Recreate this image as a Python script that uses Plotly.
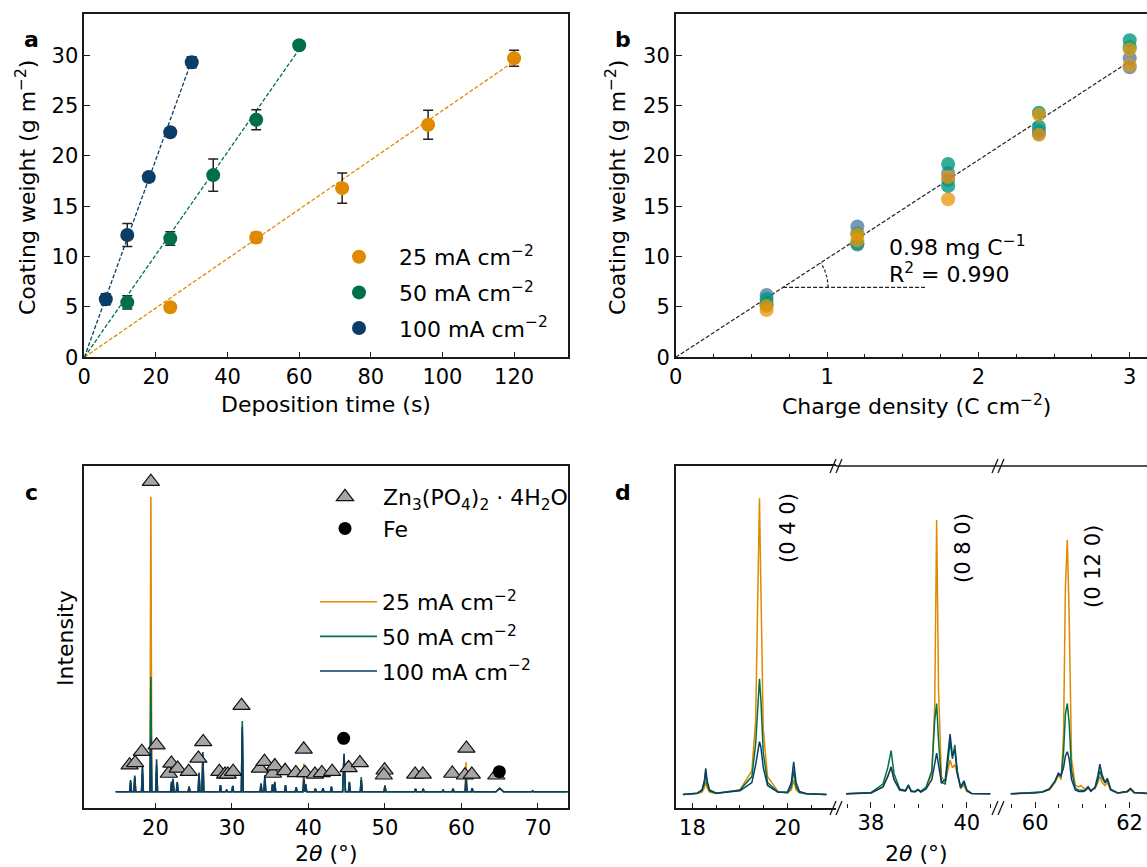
import numpy as np
import plotly.graph_objects as go

W, H = 1147, 867
FONT = "DejaVu Sans"
ORANGE = "#E08A00"
GREEN = "#00704A"
NAVY = "#0B3D66"
AXC = "#1a1a1a"

# ---------------- panel a data ----------------
labels_a = ["25 mA cm<sup>−2</sup>", "50 mA cm<sup>−2</sup>", "100 mA cm<sup>−2</sup>"]
time_25 = [24, 48, 72, 96, 120]
cw_25 = [4.97, 11.9, 16.8, 23.1, 29.7]
err_25 = [0.2, 0.5, 1.5, 1.45, 0.8]
time_50 = [12, 24, 36, 48, 60]
cw_50 = [5.46, 11.8, 18.1, 23.6, 31.0]
err_50 = [0.65, 0.66, 1.6, 1.0, 0.3]
time_100 = [6, 12, 18, 24, 30]
cw_100 = [5.76, 12.15, 17.9, 22.35, 29.3]
err_100 = [0.55, 1.15, 0.45, 0.2, 0.55]
fit_time_end = [120, 60, 30]
fit_cw_end = [29.4, 30.6, 29.5]

# ---------------- panel b data ----------------
charge_25 = [0.6, 0.6, 1.2, 1.2, 1.8, 1.8, 2.4, 2.4, 3.0, 3.0]
cwb_25 = [4.7, 5.1, 11.6, 12.2, 15.7, 17.9, 22.1, 24.1, 29.0, 30.6]
charge_50 = [0.6, 0.6, 1.2, 1.2, 1.8, 1.8, 2.4, 2.4, 3.0, 3.0]
cwb_50 = [5.2, 5.8, 11.3, 12.3, 17.0, 19.2, 22.9, 24.3, 30.8, 31.5]
charge_100 = [0.6, 0.6, 1.2, 1.2, 1.8, 1.8, 2.4, 2.4, 3.0, 3.0]
cwb_100 = [5.4, 6.2, 11.2, 13.0, 17.6, 18.3, 22.2, 22.5, 28.8, 29.7]
fit_b_x = [0, 3.0]
fit_b_y = [0, 29.4]
angle_ref_y = 6.95
angle_ref_xend = 1.65

# ---------------- panel c data ----------------
c_x_start, c_x_end = 14.8, 73.9
c_peak_pos = [16.75, 17.3, 18.3, 19.4, 20.15, 22.1, 22.3, 22.85, 24.4, 25.7, 26.2, 28.5, 29.3, 30.1,
              31.35, 33.8, 34.3, 35.3, 35.6, 37.0, 38.4, 39.4, 39.65, 40.9, 41.9, 43.0, 44.65, 45.35,
              46.9, 50.0, 54.0, 55.0, 57.6, 58.9, 60.6, 61.4, 65.0, 69.3]
c_peak_width = [0.12] * 26 + [0.18] + [0.12] * 9 + [0.5, 0.12]
c_int_25 = [3, 4.5, 6, 100, 7, 2.5, 4, 2.5, 1.5, 5, 11, 2, 0.8, 1.7, 20, 2.5, 4.5, 2, 2.8, 2, 1.5,
            9.6, 2, 1, 1, 1.5, 11, 3, 4, 2.3, 0.8, 0.8, 0.5, 1, 10, 1, 1.2, 0.3]
c_int_50 = [3.5, 5, 8, 39, 9, 3, 4, 3, 1.7, 6, 12, 2.3, 0.5, 2, 24, 2.8, 5, 2.5, 3.2, 2.3, 1.5,
            5, 2.5, 1, 1.2, 1.7, 12, 3.2, 5, 2, 1, 1, 0.5, 1, 6, 1.2, 1.2, 0.3]
c_int_100 = [4, 5.5, 8.7, 18, 11, 3.5, 4.5, 3.4, 1.7, 6.5, 13.5, 2.3, 0.5, 2, 22, 2.8, 5.6, 2.5, 3.4,
             2.3, 1.5, 4, 2.5, 1, 1.2, 1.7, 13, 3.4, 4, 2, 1, 1, 0.5, 1, 4, 1.2, 1.2, 0.3]
hopeite_x = [19.4, 16.62, 17.35, 18.22, 20.15, 21.75, 22.08, 22.9, 24.35, 25.61, 26.24, 28.35, 29.09,
             29.45, 30.15, 31.25, 33.65, 34.25, 35.35, 35.6, 36.95, 38.35, 39.38, 39.55, 40.85, 41.75,
             43.1, 45.25, 46.72, 49.95, 49.85, 53.95, 54.95, 58.8, 60.65, 60.45, 61.35, 64.55]
hopeite_y = [105.1, 9.0, 9.8, 13.6, 15.8, 6.2, 9.6, 7.9, 6.8, 11.3, 16.9, 6.8, 5.9, 5.9, 6.8, 29.2,
             7.9, 10.2, 6.2, 8.7, 7.1, 6.4, 14.4, 6.4, 5.9, 6.4, 6.8, 8.1, 9.8, 7.3, 5.6, 5.9, 5.9,
             6.2, 14.7, 5.6, 5.9, 5.6]
fe_x = [44.6, 64.95]
fe_y = [18.1, 6.8]

# ---------------- panel d data ----------------
d1_x = [17.8, 18.1, 18.2, 18.25, 18.28, 18.31, 18.36, 18.5, 19.0, 19.25, 19.33, 19.38, 19.41, 19.44,
        19.49, 19.58, 19.8, 20.0, 20.08, 20.13, 20.18, 20.25, 20.4, 20.82]
d1_25 = [0, 0.3, 0.8, 2.2, 4.3, 2.2, 0.8, 0.3, 1.5, 8, 25, 70, 100, 70, 22, 6, 1, 0.5, 1.5, 4.8, 1.5,
         0.5, 0.2, 0]
d1_50 = [0, 0.4, 1.2, 3.5, 7.5, 3.5, 1.2, 0.4, 1.5, 6, 17, 33, 39, 32, 14, 4, 0.8, 0.6, 2.5, 8, 2.5,
         0.7, 0.2, 0]
d1_100 = [0, 0.4, 1.5, 4.5, 8.8, 4.5, 1.5, 0.4, 1.2, 4, 10, 16, 17.8, 16, 9, 3, 0.7, 0.8, 4, 11, 4,
          1, 0.2, 0]
d2_x = [37.48, 38.0, 38.25, 38.35, 38.42, 38.48, 38.6, 38.72, 38.78, 38.84, 38.92, 38.98, 39.04, 39.15,
        39.27, 39.33, 39.37, 39.41, 39.47, 39.55, 39.62, 39.65, 39.7, 39.75, 39.8, 39.87, 39.94, 40.0,
        40.1, 40.49]
d2_25 = [0.2, 0.5, 2.5, 6, 9, 5, 1.5, 1.2, 2.8, 1, 0.8, 1.5, 0.8, 2, 7, 30, 92.7, 35, 6, 4, 10, 11.6,
         9, 10, 7, 2, 3, 1, 0.3, 0.2]
d2_50 = [0.2, 0.6, 3.5, 9, 14.8, 7, 1.8, 1.3, 3.2, 1.2, 1, 1.7, 1, 2.5, 8, 25, 30.7, 18, 4, 3.5, 13,
         18, 12, 16.7, 8, 2.2, 4, 1.2, 0.3, 0.2]
d2_100 = [0.2, 0.5, 2.5, 6, 9.3, 5, 1.5, 1.2, 3, 1, 0.9, 1.6, 0.8, 1.8, 5, 11, 13.9, 10, 4, 5, 17, 20.4,
          13, 15, 7, 2.5, 4.6, 1.5, 0.3, 0.2]
d3_x = [59.48, 59.8, 60.0, 60.15, 60.3, 60.42, 60.49, 60.55, 60.6, 60.64, 60.68, 60.72, 60.77, 60.85,
        60.92, 60.97, 61.03, 61.08, 61.12, 61.18, 61.27, 61.33, 61.37, 61.42, 61.48, 61.53, 61.6,
        61.75, 61.95, 62.02, 62.1, 62.37]
d3_25 = [0.2, 0.4, 0.5, 0.8, 1.5, 4, 6.5, 5, 20, 70, 86, 60, 12, 3, 2.5, 3, 2, 2, 2.6, 1.5, 2, 4, 6, 4,
         3, 4, 1.5, 0.5, 0.8, 1.5, 0.5, 0.3]
d3_50 = [0.2, 0.4, 0.6, 0.8, 1.8, 4.5, 7, 6, 14, 27, 30.7, 24, 8, 2, 1.5, 1.5, 1.3, 1.8, 2.6, 1.2, 2.2,
         5, 8, 5.5, 4, 5.5, 1.8, 0.5, 1, 2, 0.6, 0.3]
d3_100 = [0.2, 0.3, 0.5, 0.8, 1.8, 4.5, 7.1, 6.5, 9, 13, 14.4, 12, 5, 1.5, 1, 1, 1, 1.5, 2.3, 1, 2.5,
          6.5, 10.2, 6.5, 4, 5, 1.5, 0.5, 1, 2, 0.6, 0.4]
d_labels = ["(0 4 0)", "(0 8 0)", "(0 12 0)"]


def fx(px):
    return px / W


def fy(py):
    return 1 - py / H


def sticks(pos, heights, widths):
    xs, ys = [c_x_start], [0]
    for p, h, w in sorted(zip(pos, heights, widths)):
        xs += [p - w, p, p + w]
        ys += [0, h, 0]
    xs.append(c_x_end)
    ys.append(0)
    return xs, ys


fig = go.Figure()

# ---------- panel a ----------
a_series = [(time_25, cw_25, err_25, ORANGE), (time_50, cw_50, err_50, GREEN),
            (time_100, cw_100, err_100, NAVY)]
for i, (xs, ys, es, col) in enumerate(a_series):
    fig.add_trace(go.Scatter(x=[0, fit_time_end[i]], y=[0, fit_cw_end[i]], mode="lines",
                             line=dict(color=col, width=1.3, dash="4px,2px"), showlegend=False,
                             hoverinfo="skip", xaxis="x", yaxis="y"))
for i, (xs, ys, es, col) in enumerate(a_series):
    fig.add_trace(go.Scatter(x=xs, y=ys, mode="markers", name=labels_a[i],
                             marker=dict(color=col, size=14),
                             error_y=dict(type="data", array=es, color="#222", thickness=1.5, width=5),
                             legend="legend", legendgroup="a%d" % i, xaxis="x", yaxis="y"))

# ---------- panel b ----------
fig.add_trace(go.Scatter(x=fit_b_x, y=fit_b_y, mode="lines", line=dict(color="#222", width=1.2, dash="4px,2px"),
                         showlegend=False, hoverinfo="skip", xaxis="x2", yaxis="y2"))
slope_b = fit_b_y[1] / fit_b_x[1]
x0_ang = angle_ref_y / slope_b
fig.add_trace(go.Scatter(x=[x0_ang, angle_ref_xend], y=[angle_ref_y, angle_ref_y], mode="lines",
                         line=dict(color="#222", width=1.2, dash="4px,2px"), showlegend=False,
                         hoverinfo="skip", xaxis="x2", yaxis="y2"))
bx_range = [0, (W - 675.8) / 151.3]
by_range = [0, 34.1]
px_per_x = (W - 675.8) / (bx_range[1] - bx_range[0])
px_per_y = (357.3 - 14) / (by_range[1] - by_range[0])
theta_end = np.arctan(slope_b * px_per_y / px_per_x)
t = np.linspace(0, theta_end, 30)
r_px = 45
fig.add_trace(go.Scatter(x=x0_ang + r_px * np.cos(t) / px_per_x, y=angle_ref_y + r_px * np.sin(t) / px_per_y,
                         mode="lines", line=dict(color="#222", width=1.2, dash="3px,2px"),
                         showlegend=False, hoverinfo="skip", xaxis="x2", yaxis="y2"))
b_series = [(charge_100, cwb_100, "rgba(43,100,148,0.65)"), (charge_50, cwb_50, "rgba(0,152,126,0.8)"),
            (charge_25, cwb_25, "rgba(230,150,10,0.75)")]
for xs, ys, col in b_series:
    fig.add_trace(go.Scatter(x=xs, y=ys, mode="markers", marker=dict(color=col, size=14),
                             showlegend=False, xaxis="x2", yaxis="y2"))

# ---------- panel c ----------
c_series = [(c_int_25, ORANGE, labels_a[0]), (c_int_50, GREEN, labels_a[1]), (c_int_100, NAVY, labels_a[2])]
for i, (ints, col, name) in enumerate(c_series):
    xs, ys = sticks(c_peak_pos, ints, c_peak_width)
    fig.add_trace(go.Scatter(x=xs, y=ys, mode="lines", line=dict(color=col, width=1.6), name=name,
                             legend="legend3", legendgroup="c%d" % i, xaxis="x3", yaxis="y3"))
fig.add_trace(go.Scatter(x=hopeite_x, y=hopeite_y, mode="markers",
                         name="Zn<sub>3</sub>(PO<sub>4</sub>)<sub>2</sub> · 4H<sub>2</sub>O",
                         marker=dict(symbol="triangle-up", size=15, color="#A6A6A6",
                                     line=dict(color="#111", width=1.2)),
                         legend="legend2", legendgroup="m0", xaxis="x3", yaxis="y3"))
fig.add_trace(go.Scatter(x=fe_x, y=fe_y, mode="markers", name="Fe",
                         marker=dict(symbol="circle", size=13, color="#000"),
                         legend="legend2", legendgroup="m1", xaxis="x3", yaxis="y3"))

# ---------- panel d ----------
d_segments = [("x4", d1_x, d1_25, d1_50, d1_100), ("x5", d2_x, d2_25, d2_50, d2_100),
              ("x6", d3_x, d3_25, d3_50, d3_100)]
for xa, xs, y25, y50, y100 in d_segments:
    for ys, col in [(y25, ORANGE), (y50, GREEN), (y100, NAVY)]:
        fig.add_trace(go.Scatter(x=xs, y=ys, mode="lines", line=dict(color=col, width=1.5),
                                 showlegend=False, xaxis=xa, yaxis="y4"))

# ---------- axes ----------
tickfont = dict(family=FONT, size=21, color="#000")
base = dict(showline=True, linecolor=AXC, linewidth=1.5, ticks="inside", ticklen=6, tickwidth=1.3,
            tickcolor=AXC, showgrid=False, zeroline=False, tickfont=tickfont)


def minor_t(d):
    return dict(ticks="inside", dtick=d, tick0=0, ticklen=4, tickwidth=1.1, tickcolor=AXC)


xa_dom = [fx(84.3), fx(567.8)]
xb_dom = [fx(675.8), 1.0]
y_top_dom = [fy(357.3), fy(14)]
y_bot_dom = [fy(808.3), fy(466)]

fig.update_layout(
    xaxis=dict(base, domain=xa_dom, range=[0, 135], dtick=20, tick0=0, mirror=True, anchor="y"),
    yaxis=dict(base, domain=y_top_dom, range=[0, 34.1], dtick=5, tick0=0, mirror=True, anchor="x"),
    xaxis2=dict(base, domain=xb_dom, range=bx_range, dtick=1, tick0=0, mirror=True, anchor="y2",
                minor=minor_t(0.25)),
    yaxis2=dict(base, domain=y_top_dom, range=by_range, dtick=5, tick0=0, mirror=False, anchor="x2"),
    xaxis3=dict(base, domain=xa_dom, range=[10.7, 73.9], dtick=10, tick0=0, mirror=True, anchor="y3"),
    yaxis3=dict(base, domain=y_bot_dom, range=[-5.6, 110.4], showticklabels=False, ticks="",
                mirror=True, anchor="x3"),
    xaxis4=dict(base, domain=[fx(675.8), fx(836)], range=[17.65, 21.02], dtick=2, tick0=0, mirror=True,
                anchor="y4", minor=minor_t(0.5)),
    xaxis5=dict(base, domain=[fx(836), fx(997.5)], range=[37.27, 40.64], dtick=2, tick0=0, showline=False,
                anchor="y4", minor=minor_t(0.5)),
    xaxis6=dict(base, domain=[fx(997.5), 1.0], range=[59.2, 62.37], dtick=2, tick0=0, showline=False,
                anchor="y4", minor=minor_t(0.5)),
    yaxis4=dict(base, domain=y_bot_dom, range=[-4.7, 110.9], showticklabels=False, ticks="",
                mirror=False, anchor="x4"),
)

# ---------- legends ----------
legfont = dict(family=FONT, size=22, color="#000")
fig.update_layout(
    legend=dict(x=fx(319), y=fy(236), xanchor="left", yanchor="top", font=legfont, itemwidth=70,
                traceorder="grouped", tracegroupgap=4, bgcolor="rgba(0,0,0,0)", itemsizing="trace"),
    legend2=dict(x=fx(307), y=fy(476), xanchor="left", yanchor="top", font=legfont, itemwidth=66,
                 traceorder="grouped", tracegroupgap=0, bgcolor="rgba(0,0,0,0)", itemsizing="trace"),
    legend3=dict(x=fx(315), y=fy(581), xanchor="left", yanchor="top", font=legfont, itemwidth=57,
                 traceorder="grouped", tracegroupgap=3, bgcolor="rgba(0,0,0,0)"),
)

# ---------- shapes for broken axis in d ----------
shapes = []
shapes.append(dict(type="line", xref="paper", yref="paper", x0=fx(836), x1=1.0, y0=fy(466), y1=fy(466),
                   line=dict(color=AXC, width=1.5)))
for xc in [836, 998]:
    for yc in [466, 808]:
        for off in [-6, 0]:
            shapes.append(dict(type="line", xref="paper", yref="paper",
                               x0=fx(xc + off), y0=fy(yc + 7), x1=fx(xc + off + 6), y1=fy(yc - 7),
                               line=dict(color=AXC, width=1.3)))

# ---------- annotations ----------
ann = []


def add_text(text, x, y, angle=0, size=22, bold=False, xanchor="center", yanchor="middle"):
    ann.append(dict(text=("<b>%s</b>" % text) if bold else text, x=fx(x), y=fy(y), xref="paper",
                    yref="paper", showarrow=False, textangle=angle, xanchor=xanchor, yanchor=yanchor,
                    font=dict(family=FONT, size=size, color="#000")))


add_text("a", 31, 40, bold=True, size=22)
add_text("b", 623, 40, bold=True, size=22)
add_text("c", 31, 492, bold=True, size=22)
add_text("d", 623, 492, bold=True, size=22)
add_text("Coating weight (g m<sup>−2</sup>)", 26, 188, angle=-90)
add_text("Deposition time (s)", 326, 404)
add_text("Coating weight (g m<sup>−2</sup>)", 616, 188, angle=-90)
add_text("Charge density (C cm<sup>−2</sup>)", 916, 405)
add_text("Intensity", 65, 638, angle=-90)
add_text("2<i>θ</i> (°)", 326, 853)
add_text("2<i>θ</i> (°)", 916, 853)
add_text("0.98 mg C<sup>−1</sup>", 887, 246, xanchor="left")
add_text("R<sup>2</sup> = 0.990", 887, 273, xanchor="left")
add_text(d_labels[0], 788, 528, angle=-90, size=21)
add_text(d_labels[1], 963, 548, angle=-90, size=21)
add_text(d_labels[2], 1093, 567, angle=-90, size=21)

fig.update_layout(width=W, height=H, margin=dict(l=0, r=0, t=0, b=0, autoexpand=False),
                  paper_bgcolor="white", plot_bgcolor="white", shapes=shapes, annotations=ann,
                  font=dict(family=FONT))

fig.write_html("out.html", config={"displayModeBar": False},
               post_script="document.body.style.margin='0px';document.body.style.overflow='hidden';")
